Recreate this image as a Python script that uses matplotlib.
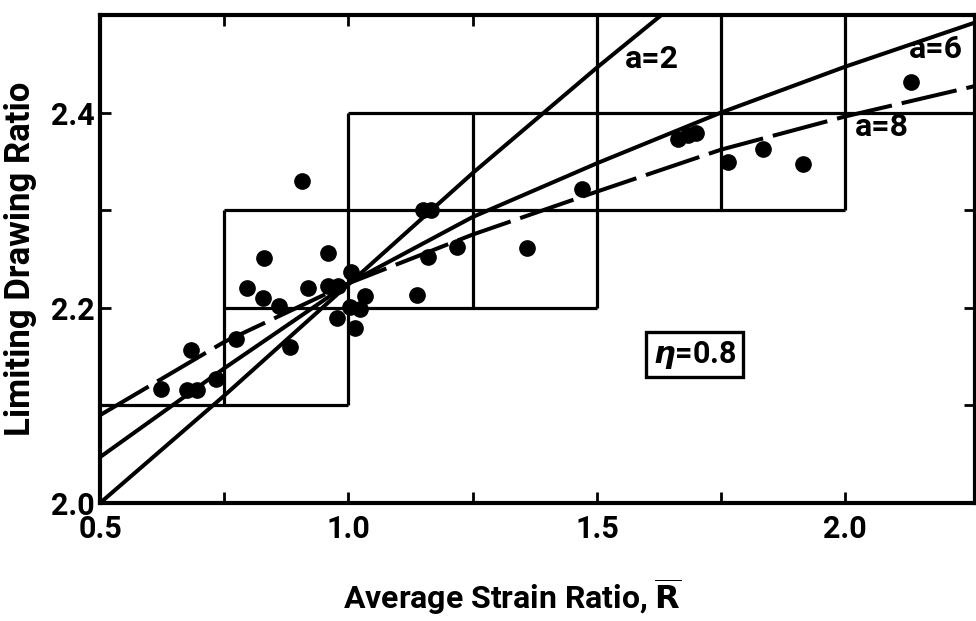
import matplotlib
matplotlib.use('Agg')
import matplotlib.pyplot as plt

# measured points: average strain ratio vs limiting drawing ratio
r_bar = [0.622, 0.675, 0.695, 0.683, 0.733, 0.774, 0.795, 0.829, 0.827, 0.860,
         0.882, 0.906, 0.919, 0.958, 0.959, 0.979, 0.976, 1.006, 1.003, 1.013,
         1.023, 1.033, 1.137, 1.150, 1.167, 1.160, 1.218, 1.359, 1.469, 1.664,
         1.684, 1.700, 1.764, 1.835, 1.915, 2.133]
ldr = [2.117, 2.116, 2.116, 2.157, 2.127, 2.168, 2.220, 2.251, 2.210, 2.202,
       2.160, 2.330, 2.220, 2.256, 2.222, 2.222, 2.190, 2.237, 2.201, 2.179,
       2.199, 2.212, 2.213, 2.300, 2.300, 2.252, 2.262, 2.261, 2.322, 2.373,
       2.377, 2.379, 2.349, 2.363, 2.347, 2.431]

# theoretical curves for yield exponent a
a2_r = [0.5, 0.75, 1.0, 1.25, 1.5, 1.63]
a2_ldr = [2.0, 2.11, 2.224, 2.338, 2.446, 2.5]
a6_r = [0.5, 0.75, 1.0, 1.25, 1.5, 1.75, 2.0, 2.26]
a6_ldr = [2.047, 2.138, 2.225, 2.293, 2.348, 2.40, 2.447, 2.492]
a8_r = [0.5, 0.75, 1.0, 1.25, 1.5, 1.75, 2.0, 2.26]
a8_ldr = [2.09, 2.165, 2.225, 2.275, 2.319, 2.362, 2.396, 2.427]

# staircase band lines
h_y = [2.1, 2.2, 2.3, 2.4]
h_x0 = [0.5, 0.75, 0.75, 1.0]
h_x1 = [1.0, 1.5, 2.0, 2.26]
v_x = [0.75, 1.0, 1.25, 1.5, 1.75, 2.0]
v_y0 = [2.1, 2.1, 2.2, 2.2, 2.3, 2.3]
v_y1 = [2.3, 2.4, 2.4, 2.5, 2.5, 2.5]

x_major = [0.5, 1.0, 1.5, 2.0]
x_minor = [0.75, 1.25, 1.75]
y_major = [2.0, 2.2, 2.4]
y_minor = [2.1, 2.3]

plt.rcParams['font.family'] = ['Roboto', 'DejaVu Sans']
plt.rcParams['font.weight'] = 'bold'
plt.rcParams['axes.labelweight'] = 'bold'

fig = plt.figure(figsize=(9.76, 6.21), dpi=100)
ax = fig.add_axes([0.1025, 0.19, 0.896, 0.786])

ax.hlines(h_y, h_x0, h_x1, colors='black', lw=2.3)
ax.vlines(v_x, v_y0, v_y1, colors='black', lw=2.3)

ax.plot(a2_r, a2_ldr, color='black', lw=2.9)
ax.plot(a6_r, a6_ldr, color='black', lw=2.9)
ax.plot(a8_r, a8_ldr, color='black', lw=2.9, linestyle=(0, (14, 2.5)))

ax.plot(r_bar, ldr, 'o', color='black', ms=11)

ax.text(1.556, 2.455, 'a=2', fontsize=23, va='center', ha='left')
ax.text(2.128, 2.465, 'a=6', fontsize=23, va='center', ha='left')
ax.text(2.02, 2.385, 'a=8', fontsize=23, va='center', ha='left')
ax.text(1.697, 2.152, r'$\eta$=0.8', fontsize=22, va='center', ha='center',
        bbox=dict(boxstyle='square,pad=0.22', fc='white', ec='black', lw=2.4))

ax.set_xlim(0.5, 2.26)
ax.set_ylim(2.0, 2.5)
ax.set_xticks(x_major)
ax.set_xticklabels(['0.5', '1.0', '1.5', '2.0'])
ax.set_xticks(x_minor, minor=True)
ax.set_yticks(y_major)
ax.set_yticklabels(['2.0', '2.2', '2.4'])
ax.set_yticks(y_minor, minor=True)
ax.tick_params(which='both', direction='in', top=True, right=True,
               length=8, width=2, labelsize=22)
ax.tick_params(axis='x', pad=8)
ax.tick_params(axis='y', pad=4)

for s in ax.spines.values():
    s.set_linewidth(3)

ax.set_xlabel(r'Average Strain Ratio, $\mathbf{\overline{R}}$', fontsize=23)
ax.xaxis.label.set_va('center')
ax.xaxis.set_label_coords(0.471, -0.192)
ax.set_ylabel('Limiting Drawing Ratio', fontsize=25, labelpad=10)

fig.savefig('out.png', dpi=100)
